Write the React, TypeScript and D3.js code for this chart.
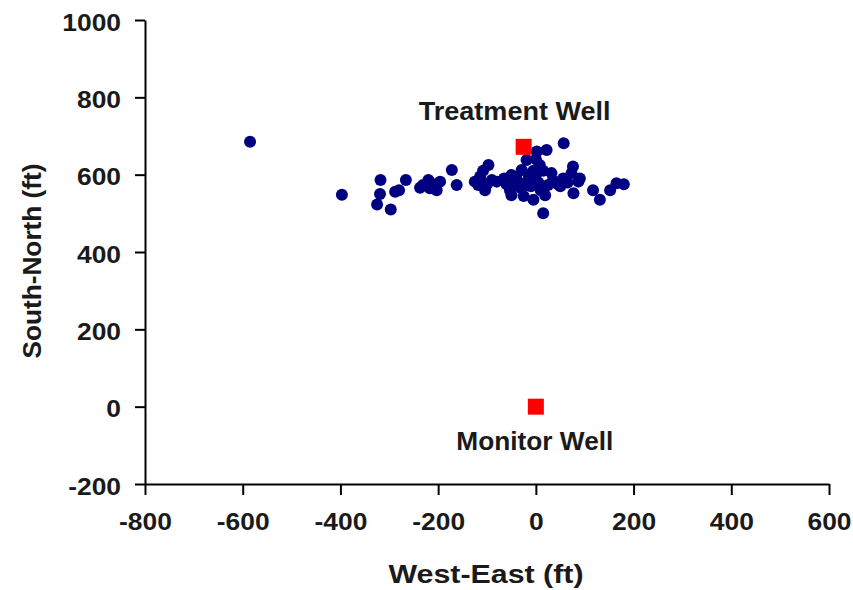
import React, { useRef, useEffect } from 'react';
import * as d3 from 'd3';

// well locations (ft)
const wellNames = ['Treatment Well', 'Monitor Well'];
const wellX = [-25, 0];
const wellY = [672, 0];

// event locations (West-East, South-North)
const eventX = [
  -585, -397, -318, -319, -325, -297, -288, -280, -266, -237, -220, -217, -203, -231, -196, -210,
  -172, -162, -114, -97, -118, -104, -90, -80, -125, -100, -108,
  -50, -53, -50, -36, -29, -19, -9, -5, 2, 8, 22, 19, 15, 32, 25, 42, 57, 56, 76, 73, 77, 87,
  117, 131, 152, 165, 180,
  -45, -40, -30, -20, -15, -10, 0, 5, 10, 15, -60, -65, 35, 50, 65, 90, -25, 0, -5
];
const eventY = [
  685, 548, 586, 550, 523, 510, 556, 560, 586, 566, 586, 565, 560, 573, 582, 575,
  612, 573, 595, 625, 573, 560, 586, 582, 582, 575, 610,
  599, 560, 547, 573, 612, 638, 590, 535, 660, 625, 664, 547, 500, 604, 573, 578, 681, 590, 621, 604, 552, 582,
  560, 535, 560, 578, 575,
  580, 590, 565, 580, 600, 570, 600, 580, 560, 610, 575, 590, 585, 570, 580, 590, 545, 640, 610
];

const xTicks = [-800, -600, -400, -200, 0, 200, 400, 600];
const yTicks = [-200, 0, 200, 400, 600, 800, 1000];

const W = 853;
const H = 590;
const FONT = '"Liberation Sans", Arial, sans-serif';

export default function App() {
  const svgRef = useRef<SVGSVGElement>(null);

  useEffect(() => {
    if (!svgRef.current) return;
    const svg = d3.select(svgRef.current);
    svg.selectAll('*').remove();

    const x = d3.scaleLinear().domain([-800, 600]).range([145, 829]);
    const y = d3.scaleLinear().domain([-200, 1000]).range([484, 20]);
    const fmt = (d: d3.NumberValue) => String(d);

    // stretch text a bit horizontally, like the original
    const widen = (sel: d3.Selection<any, any, any, any>, k: number) => {
      sel.each(function () {
        const t = this as SVGTextElement;
        const len = t.getComputedTextLength();
        d3.select(t).attr('textLength', len * k).attr('lengthAdjust', 'spacingAndGlyphs');
      });
    };

    // y axis
    const gy = svg.append('g')
      .attr('transform', `translate(${x(-800)},0)`)
      .call(d3.axisLeft(y).tickValues(yTicks).tickFormat(fmt).tickSize(10).tickPadding(14).tickSizeOuter(0));
    gy.select('.domain').attr('stroke', '#000').attr('stroke-width', 2);
    gy.selectAll('.tick line').attr('stroke', '#000').attr('stroke-width', 2);
    gy.selectAll('.tick text')
      .attr('font-family', FONT)
      .attr('font-size', 24)
      .attr('font-weight', 'bold')
      .attr('fill', '#1a1a1a')
      .attr('dy', '0.42em');
    widen(gy.selectAll('.tick text'), 1.1);

    // x axis
    const gx = svg.append('g')
      .attr('transform', `translate(0,${y(-200)})`)
      .call(d3.axisBottom(x).tickValues(xTicks).tickFormat(fmt).tickSize(11).tickPadding(18).tickSizeOuter(0));
    gx.select('.domain').attr('stroke', '#000').attr('stroke-width', 2);
    gx.selectAll('.tick line').attr('stroke', '#000').attr('stroke-width', 2);
    gx.selectAll('.tick text')
      .attr('font-family', FONT)
      .attr('font-size', 24)
      .attr('font-weight', 'bold')
      .attr('fill', '#1a1a1a');
    widen(gx.selectAll('.tick text'), 1.1);

    // events
    const pts = eventX.map((v, i) => ({ x: v, y: eventY[i] }));
    svg.append('g')
      .selectAll('circle')
      .data(pts)
      .enter()
      .append('circle')
      .attr('cx', d => x(d.x))
      .attr('cy', d => y(d.y))
      .attr('r', 6)
      .attr('fill', '#000080');

    // wells
    const wells = wellNames.map((n, i) => ({ name: n, x: wellX[i], y: wellY[i] }));
    svg.append('g')
      .selectAll('rect')
      .data(wells)
      .enter()
      .append('rect')
      .attr('x', d => x(d.x) - 8)
      .attr('y', d => y(d.y) - 8)
      .attr('width', 16)
      .attr('height', 16)
      .attr('fill', '#ff0000');

    // well labels
    const labelOffset = [-27, 43];
    const labelLen = [192, 157];
    svg.append('g')
      .selectAll('text')
      .data(wells)
      .enter()
      .append('text')
      .attr('x', (d, i) => x(d.x) + (i === 0 ? -9 : -1))
      .attr('y', (d, i) => y(d.y) + labelOffset[i])
      .attr('text-anchor', 'middle')
      .attr('font-family', FONT)
      .attr('font-size', 25)
      .attr('font-weight', 'bold')
      .attr('fill', '#1a1a1a')
      .attr('textLength', (d, i) => labelLen[i])
      .attr('lengthAdjust', 'spacingAndGlyphs')
      .text(d => d.name);

    // axis titles
    svg.append('text')
      .attr('x', 486)
      .attr('y', 583)
      .attr('text-anchor', 'middle')
      .attr('font-family', FONT)
      .attr('font-size', 25)
      .attr('font-weight', 'bold')
      .attr('fill', '#1a1a1a')
      .attr('textLength', 195)
      .attr('lengthAdjust', 'spacingAndGlyphs')
      .text('West-East (ft)');

    svg.append('text')
      .attr('transform', 'translate(41,261) rotate(-90)')
      .attr('text-anchor', 'middle')
      .attr('font-family', FONT)
      .attr('font-size', 25)
      .attr('font-weight', 'bold')
      .attr('fill', '#1a1a1a')
      .attr('textLength', 195)
      .attr('lengthAdjust', 'spacingAndGlyphs')
      .text('South-North (ft)');
  }, []);

  return (
    <div style={{ position: 'fixed', left: 0, top: 0, width: W, height: H, background: '#fff' }}>
      <svg ref={svgRef} width={W} height={H} style={{ display: 'block' }} />
    </div>
  );
}
